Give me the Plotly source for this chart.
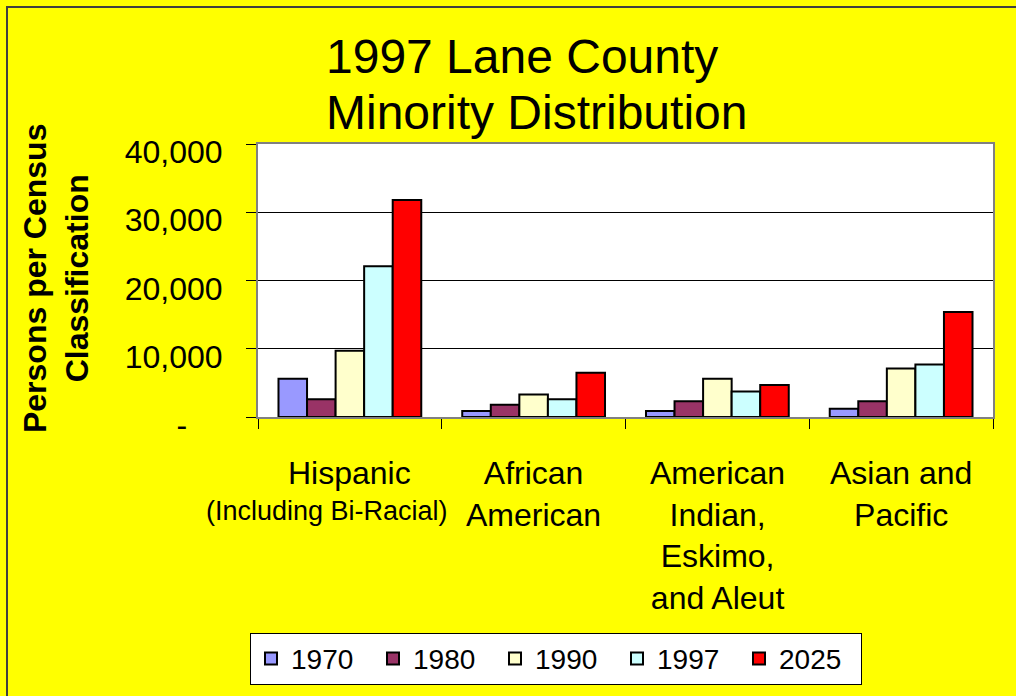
import plotly.graph_objects as go

categories = ["Hispanic", "African American", "American Indian", "Asian and Pacific"]
cat_lines = [["Hispanic"], ["African", "American"], ["American", "Indian,", "Eskimo,", "and Aleut"], ["Asian and", "Pacific"]]
hispanic_note = "(Including Bi-Racial)"
years = ["1970", "1980", "1990", "1997", "2025"]
v1970 = [5600, 870, 870, 1200]
v1980 = [2600, 1800, 2300, 2300]
v1990 = [9700, 3300, 5600, 7100]
v1997 = [22100, 2600, 3750, 7700]
v2025 = [31800, 6500, 4700, 15400]
series = [v1970, v1980, v1990, v1997, v2025]
colors = ["#9999FF", "#993366", "#FFFFCC", "#CCFFFF", "#FF0000"]
yticks = [0, 10000, 20000, 30000, 40000]
yticktext = ["-\u00a0\u00a0\u00a0\u00a0", "10,000", "20,000", "30,000", "40,000"]

FONT = "Liberation Sans, Arial, sans-serif"

fig = go.Figure()
for yr, vals, col in zip(years, series, colors):
    fig.add_trace(go.Bar(x=categories, y=vals, name=yr,
                         marker=dict(color=col, line=dict(color="#000000", width=2))))

W, H = 1016, 696
L, R, T, B = 258, 23, 144, 275
PW, PH = W - L - R, H - T - B

def px_x(p):
    return (p - L) / PW

def px_y(p):
    return (H - B - p) / PH

annotations = []
# title lines
annotations.append(dict(text="1997 Lane County", x=px_x(324), y=px_y(55), xref="paper", yref="paper",
                        xanchor="left", yanchor="middle", showarrow=False,
                        font=dict(family=FONT, size=48, color="black")))
annotations.append(dict(text="Minority Distribution", x=px_x(324), y=px_y(112), xref="paper", yref="paper",
                        xanchor="left", yanchor="middle", showarrow=False,
                        font=dict(family=FONT, size=48, color="black")))
# category labels
for cat, lines in zip(categories, cat_lines):
    annotations.append(dict(text="<br>".join(lines), x=cat, y=0, xref="x", yref="y",
                            xanchor="center", yanchor="top", yshift=-36, showarrow=False,
                            font=dict(family=FONT, size=32, color="black")))
annotations.append(dict(text=hispanic_note, x=categories[0], y=0, xref="x", yref="y",
                        xanchor="center", yanchor="top", yshift=-77, xshift=-23, showarrow=False,
                        font=dict(family=FONT, size=27, color="black")))
# y axis title
annotations.append(dict(text="<b>Persons per Census<br>Classification</b>", x=px_x(56), y=px_y(281),
                        xref="paper", yref="paper", xanchor="center", yanchor="middle",
                        textangle=-90, showarrow=False,
                        font=dict(family=FONT, size=32, color="black")))

fig.update_layout(
    width=W, height=H, autosize=False,
    margin=dict(l=L, r=R, t=T, b=B, pad=0),
    paper_bgcolor="#FFFF00", plot_bgcolor="#FFFFFF",
    barmode="group", bargap=0.223, bargroupgap=0,
    font=dict(family=FONT, color="black"),
    annotations=annotations,
    showlegend=True,
    legend=dict(orientation="h", x=px_x(250), y=px_y(640), xanchor="left", yanchor="top",
                bgcolor="#FFFFFF", bordercolor="#000000", borderwidth=1,
                entrywidth=77, entrywidthmode="pixels",
                font=dict(family=FONT, size=28, color="black"), traceorder="normal"),
    shapes=[dict(type="rect", xref="paper", yref="paper",
                 x0=px_x(7), x1=px_x(1040), y0=px_y(720), y1=px_y(5),
                 line=dict(color="#404040", width=2), fillcolor="rgba(0,0,0,0)", layer="above")],
)
fig.update_xaxes(range=[-0.5, len(categories) - 0.5], autorange=False,
                 showticklabels=False, ticks="outside", tickson="boundaries", ticklen=10,
                 tickcolor="#000000", tickwidth=1, showline=True, linecolor="#808080", linewidth=2,
                 mirror=True, showgrid=False)
fig.update_yaxes(range=[0, 40000], autorange=False, tickvals=yticks, ticktext=yticktext,
                 ticks="outside", ticklen=10,
                 tickcolor="#000000", tickwidth=1, showline=True, linecolor="#808080", linewidth=2,
                 mirror=True, showgrid=True, gridcolor="#000000", gridwidth=1, zeroline=False,
                 ticklabelstandoff=17, ticklabelshift=8,
                 tickfont=dict(family=FONT, size=32, color="black"))

fig.write_html("out.html", config={"displayModeBar": False},
               post_script="document.body.style.margin='0';document.body.style.overflow='hidden';")
